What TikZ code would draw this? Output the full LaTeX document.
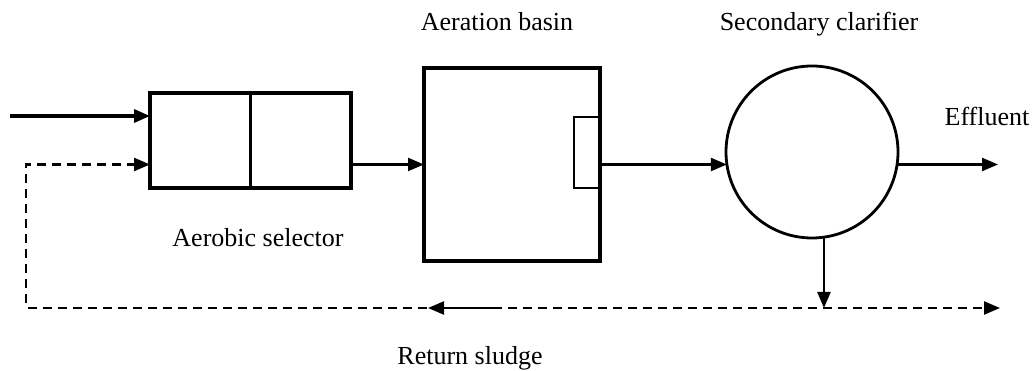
\documentclass[tikz,border=0pt]{standalone}
\usepackage{fontspec}
\setmainfont{Liberation Serif}
\usetikzlibrary{arrows.meta,calc}
\begin{document}
\begin{tikzpicture}[x=1pt,y=1pt,
  every node/.style={inner sep=0pt,outer sep=0pt},
  lbl/.style={anchor=base,font=\fontsize{26}{30}\selectfont},
  tank/.style={draw,line width=3.2pt,rectangle},
  tip/.style={-{Triangle[length=16pt,width=13pt]}},
  flow/.style={line width=2.3pt,tip},
  ret/.style={line width=2.3pt,dash pattern=on 9pt off 6pt}]
\useasboundingbox (0,0) rectangle (1035,371);
% units
\node[tank,minimum width=201pt,minimum height=95pt] (sel) at (250.5,230.5) {};
\draw[line width=2.3pt] (sel.north) -- (sel.south);
\node[tank,minimum width=176pt,minimum height=193pt] (basin) at (512,206.5) {};
\node[draw,line width=1.6pt,minimum width=26pt,minimum height=71pt,anchor=east] (weir) at (600,218.5) {};
\node[draw,circle,line width=2.8pt,minimum size=172pt] (circ) at (812,219) {};
% coordinates
\coordinate (in) at (10,255);
\coordinate (jL) at (26,63);
\coordinate (jR) at (1000,63);
\coordinate (eff) at (998,206.5);
\coordinate (m1) at (502,63);
\coordinate (m2) at (428,63);
% connectors
\draw[line width=3.2pt,tip] (in) -- (in -| sel.west);
\draw[flow] (sel.east |- basin.west) -- (basin.west);
\draw[flow] (basin.east) -- (basin.east -| circ.188.36);
\draw[flow] (eff -| circ.-8.36) -- (eff);
\draw[flow] (circ.-82) -- (circ.-82 |- jL);
\draw[ret] (sel.west |- basin.west) ++(-14,0) -- (jL |- basin.west) -- (jL) -- ($(jR)+(-14,0)$);
\draw[line width=2.3pt,tip] ($(sel.west |- basin.west)+(-16,0)$) -- (sel.west |- basin.west);
\draw[line width=2.3pt,tip] ($(jR)+(-16,0)$) -- (jR);
\draw[flow] (m1) -- (m2);
% labels
\node[lbl] (t1) at (497,340) {Aeration basin};
\node[lbl] (t2) at (819,340) {Secondary clarifier};
\node[lbl] (t3) at (258,124) {Aerobic selector};
\node[lbl] (t4) at (987,245) {Effluent};
\node[lbl] (t5) at (470,6) {Return sludge};
\end{tikzpicture}
\end{document}
